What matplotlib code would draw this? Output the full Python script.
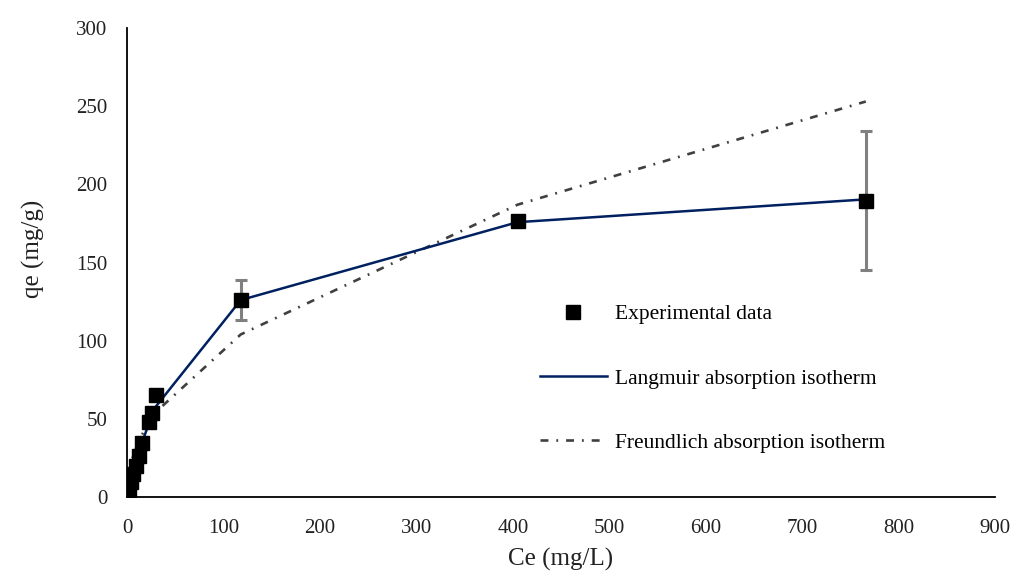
import matplotlib
matplotlib.use("Agg")
import matplotlib.pyplot as plt

plt.rcParams['font.family'] = ['Liberation Serif', 'DejaVu Serif']

# equilibrium concentration (mg/L) and uptake (mg/g)
ce = [2, 4, 6, 9, 12.5, 15.5, 23, 26, 30, 118, 405, 766]
qe_exp = [4.5, 9.6, 15, 20, 26, 34.5, 48, 54, 65, 126, 176.5, 189.5]
qe_err = [0, 0, 0, 0, 0, 0, 0, 0, 0, 13, 0, 44.5]

# model fits evaluated at the same concentrations
qe_langmuir = [5.2, 10.2, 14.9, 21.5, 28.8, 34.5, 47.5, 52.1, 57.9, 126.0, 175.8, 190.4]
qe_freundlich = [15.0, 20.9, 25.3, 30.7, 35.9, 39.7, 47.9, 50.8, 54.4, 104.0, 187.0, 253.0]

x_ticks = [0, 100, 200, 300, 400, 500, 600, 700, 800, 900]
y_ticks = [0, 50, 100, 150, 200, 250, 300]

fig = plt.figure(figsize=(10.14, 5.73), dpi=100)
ax = fig.add_axes([0.1252, 0.1326, 0.8561, 0.8185])

ax.plot(ce, qe_freundlich, color='#404040', lw=1.9,
        linestyle=(0, (3.0, 3.0, 0.7, 3.0)), label='Freundlich absorption isotherm', zorder=2)
ax.plot(ce, qe_langmuir, color='#002060', lw=1.8,
        label='Langmuir absorption isotherm', zorder=3)

# only the points with nonzero error get bars
err_x = [c for c, e in zip(ce, qe_err) if e > 0]
err_y = [q for q, e in zip(qe_exp, qe_err) if e > 0]
err_v = [e for e in qe_err if e > 0]
ax.errorbar(err_x, err_y, yerr=err_v, fmt='none', ecolor='#808080',
            elinewidth=2.2, capsize=4.5, capthick=2.2, zorder=4)

ax.plot(ce, qe_exp, linestyle='none', marker='s', markersize=9.5,
        color='black', label='Experimental data', zorder=5)

ax.set_xlim(0, 900)
ax.set_ylim(0, 300)
ax.set_xticks(x_ticks)
ax.set_yticks(y_ticks)
ax.tick_params(length=0, labelsize=15, colors='#222222')
ax.tick_params(axis='x', pad=16)
ax.tick_params(axis='y', pad=14)

for side in ['top', 'right']:
    ax.spines[side].set_visible(False)
for side in ['left', 'bottom']:
    ax.spines[side].set_linewidth(1.3)
    ax.spines[side].set_color('black')

ax.set_xlabel('Ce (mg/L)', fontsize=18, labelpad=7, color='#222222')
ax.set_ylabel('qe (mg/g)', fontsize=18, color='#222222')
ax.yaxis.set_label_coords(-0.094, 0.53)

handles, labels = ax.get_legend_handles_labels()
order = [2, 1, 0]
fig.legend([handles[i] for i in order], [labels[i] for i in order],
           loc='upper left', bbox_to_anchor=(0.5325, 0.469), frameon=False,
           fontsize=15.5, handlelength=3.1, handletextpad=0.37, labelspacing=2.05,
           borderpad=0, borderaxespad=0, markerscale=1.0)

fig.savefig('out.png', dpi=100)
